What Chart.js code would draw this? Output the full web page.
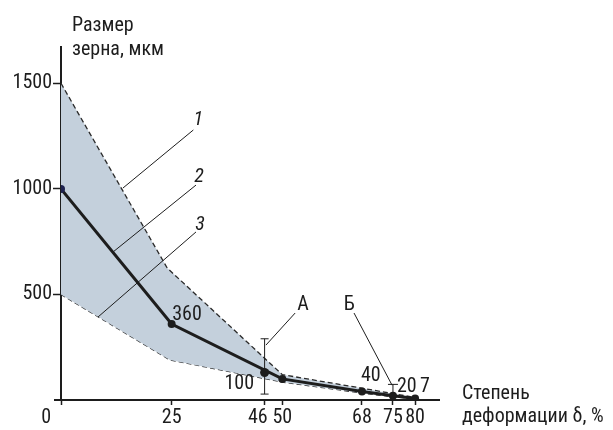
<!DOCTYPE html>
<html><head><meta charset="utf-8">
<script src="https://cdn.jsdelivr.net/npm/chart.js@4.4.1/dist/chart.umd.min.js"></script>
<style>html,body{margin:0;padding:0;background:#fff}#c{display:block}</style>
</head><body>
<canvas id="c" width="613" height="430"></canvas>
<script>
// ---- data ----
const deformation = [0, 25, 50, 68, 75, 80];
const grainSize = [1000, 360, 100, 40, 20, 7];
const upperX = [0, 24, 50, 68, 75, 80];
const upperY = [1500, 625, 120, 56, 30, 12];
const lowerX = [0, 24.6, 50, 68, 75, 80];
const lowerY = [500, 190, 85, 33, 15, 5];
const pointAX = 46, pointAY = 130, barALow = 28, barAHigh = 290;
const pointBX = 75, barBLow = 20, barBHigh = 74;
const xTicks = [0, 25, 46, 50, 68, 75, 80];
const yTicks = [500, 1000, 1500];
const valueLabels = ['360', '100', '40', '20', '7'];
const valueLabelX = [25, 46, 68, 75, 80];
const valueLabelY = [360, 100, 40, 20, 7];
const calloutText = ['1', '2', '3', 'А', 'Б'];
const calloutTextX = [31.0, 31.2, 31.4, 54.7, 65.1];
const calloutTextY = [1326, 1056, 829, 450, 450];
const calloutFromX = [29.9, 30.5, 30.5, 52.9, 66.2];
const calloutFromY = [1279, 1018, 796, 412, 412];
const calloutToX = [14.0, 11.75, 8.36, 46.3, 74.8];
const calloutToY = [1004, 701, 393, 260, 70];
const yTitle = ['Размер', 'зерна, мкм'];
const xTitle = ['Степень', 'деформации δ, %'];

const FONT = "'Liberation Sans Narrow', 'Roboto Condensed', 'Arial Narrow', Roboto, sans-serif";
const INK = '#1d1d1d';

const pts = (xs, ys) => xs.map((x, i) => ({x, y: ys[i]}));

const datasets = [
  { data: pts(deformation, grainSize), borderColor: INK, borderWidth: 3,
    pointRadius: 4, pointBackgroundColor: deformation.map((v, i) => i === 0 ? '#1f2350' : INK),
    pointBorderWidth: 0, order: 0 },
  { data: [{x: pointAX, y: pointAY}], showLine: false, pointRadius: 4.5,
    pointBackgroundColor: INK, pointBorderWidth: 0, order: 0 },
  { data: [{x: pointAX, y: barALow}, {x: pointAX, y: barAHigh}], borderColor: INK, borderWidth: 1,
    pointStyle: 'line', pointRadius: 4, pointBorderColor: INK, pointBorderWidth: 1, order: 1 },
  { data: [{x: pointBX, y: barBLow}, {x: pointBX, y: barBHigh}], borderColor: INK, borderWidth: 1,
    pointStyle: 'line', pointRadius: [0, 5], pointBorderColor: INK, pointBorderWidth: 1, order: 1 },
];
calloutText.forEach((t, i) => {
  datasets.push({ data: [{x: calloutFromX[i], y: calloutFromY[i]}, {x: calloutToX[i], y: calloutToY[i]}],
    borderColor: INK, borderWidth: 1, pointRadius: 0, order: 2 });
});
datasets.push({ data: pts(upperX, upperY), borderColor: '#2a2a2a', borderWidth: 1.3, borderDash: [5, 3],
  pointRadius: 0, fill: '+1', backgroundColor: '#c4d0dc', order: 10 });
datasets.push({ data: pts(lowerX, lowerY), borderColor: '#2a2a2a', borderWidth: 1.3, borderDash: [5, 3],
  pointRadius: 0, fill: false, order: 10 });

const textPlugin = {
  id: 'texts',
  afterDatasetsDraw(chart) {
    const {ctx, chartArea: ca, scales: {x, y}} = chart;
    ctx.save();
    // small extension of x-axis to the left of the y-axis
    ctx.strokeStyle = INK; ctx.lineWidth = 2;
    ctx.beginPath(); ctx.moveTo(ca.left - 7, ca.bottom); ctx.lineTo(ca.left, ca.bottom); ctx.stroke();

    ctx.fillStyle = INK;
    ctx.textBaseline = 'middle';
    ctx.font = `20px ${FONT}`;
    // value labels
    const off = [[0.5, -9, 'left'], [-10.5, 5, 'right'], [-1, -15.5, 'left'], [4, -9, 'left'], [5, -11.5, 'left']];
    valueLabels.forEach((t, i) => {
      ctx.textAlign = off[i][2];
      ctx.fillText(t, x.getPixelForValue(valueLabelX[i]) + off[i][0], y.getPixelForValue(valueLabelY[i]) + off[i][1]);
    });
    // callout labels
    ctx.textAlign = 'center';
    calloutText.forEach((t, i) => {
      ctx.font = (i < 3 ? 'italic ' : '') + `20px ${FONT}`;
      ctx.fillText(t, x.getPixelForValue(calloutTextX[i]), y.getPixelForValue(calloutTextY[i]));
    });
    // axis titles
    ctx.font = `20px ${FONT}`;
    ctx.textAlign = 'left';
    ctx.fillText(yTitle[0], ca.left + 11, ca.top - 21);
    ctx.fillText(yTitle[1], ca.left + 11, ca.top + 3);
    ctx.fillText(xTitle[0], ca.right + 23, ca.bottom - 6);
    ctx.fillText(xTitle[1], ca.right + 23, ca.bottom + 17);
    ctx.restore();
  }
};

new Chart(document.getElementById('c'), {
  type: 'line',
  data: { datasets },
  plugins: [textPlugin],
  options: {
    responsive: false,
    animation: false,
    devicePixelRatio: 1,
    layout: { padding: { top: 47, right: 174, left: 0, bottom: 0 } },
    plugins: { legend: { display: false }, tooltip: { enabled: false } },
    elements: { line: { tension: 0 } },
    scales: {
      x: {
        type: 'linear', min: 0, max: 85.4,
        afterBuildTicks: s => { s.ticks = xTicks.map(v => ({value: v})); },
        afterFit: s => { s.height = 30; },
        ticks: { autoSkip: false, maxRotation: 0, padding: 1, color: INK, font: {family: FONT, size: 20},
          callback: v => v === 0 ? '0\u2007\u2007\u2007' : (v === 46 ? '46\u2007\u2009' : String(v)) },
        grid: { drawOnChartArea: false, drawTicks: true, tickLength: 5, tickColor: INK, tickWidth: 1.5 },
        border: { display: true, color: INK, width: 2 }
      },
      y: {
        type: 'linear', min: 0, max: 1672,
        afterBuildTicks: s => { s.ticks = yTicks.map(v => ({value: v})); },
        afterFit: s => { s.width = 61; },
        ticks: { padding: 1, color: INK, font: {family: FONT, size: 20}, callback: v => String(v) },
        grid: { drawOnChartArea: false, drawTicks: true, tickLength: 8, tickColor: INK, tickWidth: 1.5 },
        border: { display: true, color: INK, width: 2 }
      }
    }
  }
});
</script>
</body></html>
